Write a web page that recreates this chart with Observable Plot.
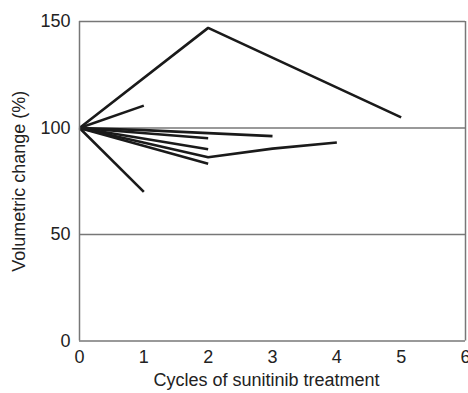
<!DOCTYPE html>
<html>
<head>
<meta charset="utf-8">
<script src="https://cdn.jsdelivr.net/npm/d3@7"></script>
<script src="https://cdn.jsdelivr.net/npm/@observablehq/plot@0.6"></script>
<style>
  html, body { margin: 0; padding: 0; background: #fff; }
  #chart svg { display: block; }
</style>
</head>
<body>
<div id="chart"></div>
<script>
const xTicks = [0, 1, 2, 3, 4, 5, 6];
const yTicks = [0, 50, 100, 150];
const gridValues = [50, 100, 150];

const patientIds = ["P1", "P2", "P3", "P4", "P5", "P6", "P7", "P8"];
const patientCycles = [
  [0, 2, 5],
  [0, 1],
  [0, 1],
  [0, 2],
  [0, 2],
  [0, 2, 3, 4],
  [0, 2],
  [0, 1, 3]
];
const patientValues = [
  [100, 147, 105],
  [100, 110.5],
  [100, 70],
  [100, 95.2],
  [100, 90],
  [100, 86.3, 90.3, 93.2],
  [100, 83.2],
  [100, 99, 96.2]
];

const rows = [];
patientIds.forEach((id, i) => {
  patientCycles[i].forEach((c, j) => rows.push({id, cycle: c, value: patientValues[i][j]}));
});

const chart = Plot.plot({
  width: 468,
  height: 393,
  marginLeft: 79,
  marginRight: 3,
  marginTop: 21,
  marginBottom: 52.5,
  style: {fontFamily: "Liberation Sans, Arial, sans-serif", fontSize: "18px", color: "#222"},
  x: {domain: [0, 6], label: null},
  y: {domain: [0, 150], label: null},
  marks: [
    Plot.ruleY(gridValues, {stroke: "#777", strokeWidth: 1.5}),
    Plot.ruleX([6], {stroke: "#777", strokeWidth: 1.5}),
    Plot.line(rows, {x: "cycle", y: "value", z: "id", stroke: "#1a1a1a", strokeWidth: 2.6, strokeLinejoin: "miter", strokeLinecap: "butt"}),
    Plot.ruleX([0], {stroke: "#777", strokeWidth: 1.5}),
    Plot.ruleY([0], {stroke: "#777", strokeWidth: 1.5}),
    Plot.axisX({ticks: xTicks, tickFormat: "d", tickSize: 0, tickPadding: 9, fontSize: 18, label: null}),
    Plot.axisY({ticks: yTicks, tickFormat: "d", tickSize: 0, tickPadding: 9, fontSize: 18, label: null}),
    Plot.text(["Cycles of sunitinib treatment"], {frameAnchor: "bottom", dy: 39, dx: -6, fontSize: 18, fill: "#222", lineAnchor: "middle"}),
    Plot.text(["Volumetric change (%)"], {frameAnchor: "left", textAnchor: "middle", dx: -60, rotate: -90, fontSize: 18, fill: "#222"})
  ]
});

document.getElementById("chart").appendChild(chart);
</script>
</body>
</html>
